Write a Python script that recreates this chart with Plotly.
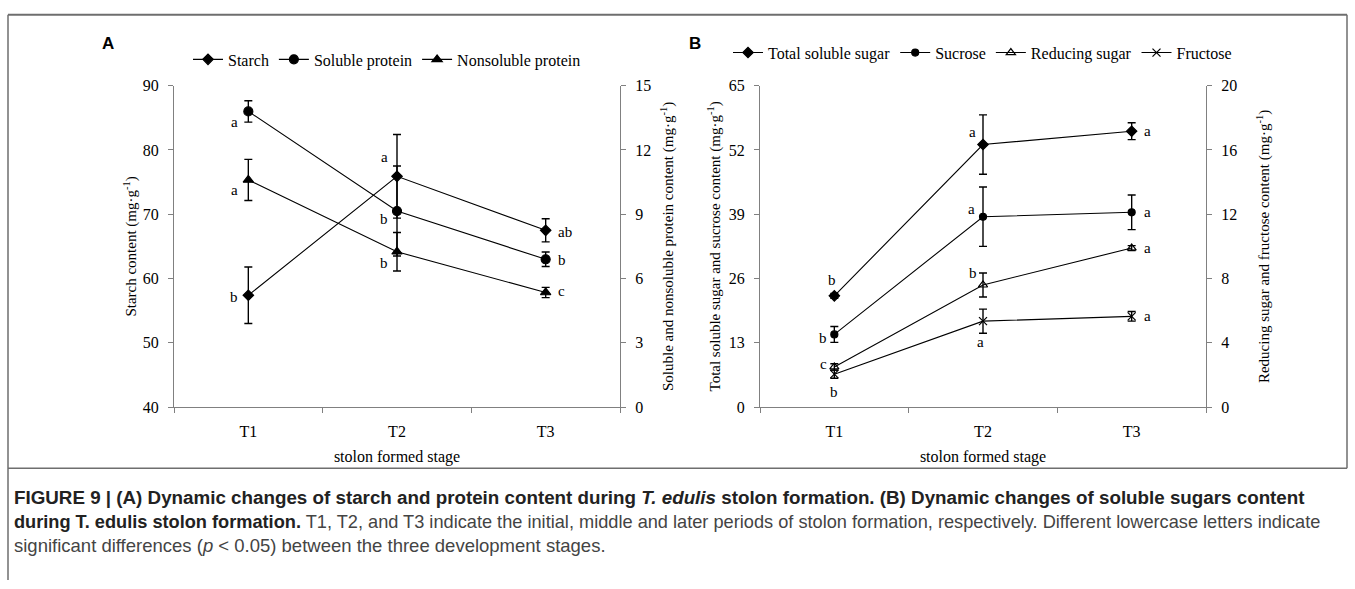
import plotly.graph_objects as go

# ---------------- data ----------------
stages = ["T1", "T2", "T3"]

# Panel A
starch = [57.4, 75.9, 67.5]
starch_err = [4.4, 6.5, 1.8]
starch_sig = ["b", "a", "ab"]
sol_protein = [13.8, 9.15, 6.9]
sol_protein_err = [0.5, 2.1, 0.34]
sol_protein_sig = ["a", "b", "b"]
nonsol_protein = [10.6, 7.25, 5.35]
nonsol_protein_err = [0.96, 0.9, 0.24]
nonsol_protein_sig = ["a", "b", "c"]

# Panel B
total_sugar = [22.5, 53.1, 55.8]
total_sugar_err = [0.5, 6.0, 1.7]
total_sugar_sig = ["b", "a", "a"]
sucrose = [14.7, 38.5, 39.4]
sucrose_err = [1.6, 6.0, 3.5]
sucrose_sig = ["b", "a", "a"]
reducing = [2.5, 7.6, 9.9]
reducing_err = [0.2, 0.75, 0.15]
reducing_sig = ["c", "b", "a"]
fructose = [2.05, 5.35, 5.65]
fructose_err = [0.25, 0.75, 0.3]
fructose_sig = ["b", "a", "a"]

left_ticks_A = [40, 50, 60, 70, 80, 90]
right_ticks_A = [0, 3, 6, 9, 12, 15]
left_ticks_B = [0, 13, 26, 39, 52, 65]
right_ticks_B = [0, 4, 8, 12, 16, 20]

# ---------------- layout helpers ----------------
W, H = 1355, 589
def px(x):
    return x / W
def py(y):
    return 1 - y / H

SERIF = "Liberation Serif, Times New Roman, serif"
AX_COL = "#808080"
TOP, BOT = 80, 411

fig = go.Figure()

def add_series(x_ax, y_ax, name, yvals, err, symbol, size, legend):
    fig.add_trace(go.Scatter(
        x=stages, y=yvals, name=name, mode="lines+markers",
        xaxis=x_ax, yaxis=y_ax, legend=legend,
        line=dict(color="black", width=1.1),
        marker=dict(symbol=symbol, size=size, color="black",
                    line=dict(color="black", width=1.2)),
        error_y=dict(type="data", array=err, visible=True,
                     color="black", thickness=1.4, width=4),
    ))

add_series("x", "y", "Starch", starch, starch_err, "diamond", 8, "legend")
add_series("x", "y2", "Soluble protein", sol_protein, sol_protein_err, "circle", 9, "legend")
add_series("x", "y2", "Nonsoluble protein", nonsol_protein, nonsol_protein_err, "triangle-up", 9, "legend")

add_series("x2", "y3", "Total soluble sugar", total_sugar, total_sugar_err, "diamond", 8, "legend2")
add_series("x2", "y3", "Sucrose", sucrose, sucrose_err, "circle", 7, "legend2")
add_series("x2", "y4", "Reducing sugar", reducing, reducing_err, "triangle-up-open", 8, "legend2")
add_series("x2", "y4", "Fructose", fructose, fructose_err, "x-thin-open", 8, "legend2")

# significance letters
ann = []
def letters(xref, yref, vals, sig, offsets):
    for i, (v, s) in enumerate(zip(vals, sig)):
        dx, dy = offsets[i]
        ann.append(dict(x=stages[i], y=v, xref=xref, yref=yref, text=s,
                        showarrow=False, xshift=dx, yshift=-dy,
                        xanchor="left" if i == 2 else "center",
                        font=dict(family=SERIF, size=15, color="black")))

letters("x", "y", starch, starch_sig, [(-14, 2), (-13, -19), (10, 2)])
letters("x", "y2", sol_protein, sol_protein_sig, [(-14, 11), (-13, 8), (10, 1)])
letters("x", "y2", nonsol_protein, nonsol_protein_sig, [(-14, 10), (-13, 11), (10, -1)])
letters("x2", "y3", total_sugar, total_sugar_sig, [(-2, -16), (-10, -13), (10, 0)])
letters("x2", "y3", sucrose, sucrose_sig, [(-11, 4), (-11, -8), (10, 0)])
letters("x2", "y4", reducing, reducing_sig, [(-11, -3), (-10, -12), (10, 0)])
letters("x2", "y4", fructose, fructose_sig, [(0, 18), (-2, 21), (10, 0)])

# panel letters
ann.append(dict(x=px(100), y=py(37), xref="paper", yref="paper", text="<b>A</b>",
                showarrow=False, xanchor="left", yanchor="middle",
                font=dict(family="Liberation Sans, Arial, sans-serif", size=17, color="black")))
ann.append(dict(x=px(687), y=py(37), xref="paper", yref="paper", text="<b>B</b>",
                showarrow=False, xanchor="left", yanchor="middle",
                font=dict(family="Liberation Sans, Arial, sans-serif", size=17, color="black")))

# caption
CAP_FONT = "Liberation Sans, Arial, sans-serif"
cap1 = ("<b>FIGURE 9 | (A) Dynamic changes of starch and protein content during <i>T. edulis</i> "
        "stolon formation. (B) Dynamic changes of soluble sugars content</b>")
cap2 = ("<b>during T. edulis stolon formation.</b> <span style='color:#444'>T1, T2, and T3 indicate the initial, "
        "middle and later periods of stolon formation, respectively. Different lowercase letters indicate</span>")
cap3 = ("<span style='color:#444'>significant differences (<i>p</i> &lt; 0.05) between the three development stages.</span>")
for t, yy, sz in [(cap1, 504, 18.8), (cap2, 529, 18.2), (cap3, 553, 18.5)]:
    ann.append(dict(x=px(12), y=py(yy), xref="paper", yref="paper", text=t,
                    showarrow=False, xanchor="left", yanchor="middle", align="left",
                    font=dict(family=CAP_FONT, size=sz, color="#222")))

# frame
LC = "#6e6e6e"
shapes = [
    dict(type="line", xref="paper", yref="paper", x0=px(8), x1=px(1347), y0=py(7), y1=py(7),
         line=dict(color=LC, width=2)),
    dict(type="line", xref="paper", yref="paper", x0=px(8), x1=px(1347), y0=py(474), y1=py(474),
         line=dict(color=LC, width=1.5)),
    dict(type="line", xref="paper", yref="paper", x0=px(8), x1=px(8), y0=py(7), y1=0,
         line=dict(color=LC, width=1.5)),
    dict(type="line", xref="paper", yref="paper", x0=px(1347), x1=px(1347), y0=py(7), y1=py(474),
         line=dict(color=LC, width=1.5)),
]

def xaxis(domain, anchor):
    return dict(domain=domain, anchor=anchor, type="category", range=[-0.5, 2.5],
                showline=True, linecolor=AX_COL, linewidth=1.3, ticks="outside",
                tickson="boundaries", ticklen=5, tickcolor=AX_COL, showgrid=False,
                zeroline=False, ticklabelstandoff=10,
                tickfont=dict(family=SERIF, size=16, color="black"),
                title=dict(text="stolon formed stage", standoff=11,
                           font=dict(family=SERIF, size=16, color="black")))

def yaxis(rng, tickv, title, side, anchor, standoff, overlaying=None):
    d = dict(range=rng, tickvals=tickv, side=side, anchor=anchor,
             domain=[py(BOT), py(TOP)], showline=True, linecolor=AX_COL,
             linewidth=1.3, ticks="outside", ticklen=5, tickcolor=AX_COL,
             showgrid=False, zeroline=False, ticklabelstandoff=6,
             tickfont=dict(family=SERIF, size=16, color="black"),
             title=dict(text=title, standoff=standoff,
                        font=dict(family=SERIF, size=15, color="black")))
    if overlaying:
        d["overlaying"] = overlaying
    return d

UNIT = "(mg·g<sup>-1</sup>)"
domA = [px(174), px(620)]
domB = [px(760), px(1206)]

fig.update_layout(
    width=W, height=H, margin=dict(l=0, r=0, t=0, b=0),
    paper_bgcolor="white", plot_bgcolor="white",
    xaxis=xaxis(domA, "y"),
    xaxis2=xaxis(domB, "y3"),
    yaxis=yaxis([40, 90], left_ticks_A, "Starch content " + UNIT, "left", "x", 2),
    yaxis2=yaxis([0, 15], right_ticks_A, "Soluble and nonsoluble protein content " + UNIT, "right", "x", 12, "y"),
    yaxis3=yaxis([0, 65], left_ticks_B, "Total soluble sugar and sucrose content " + UNIT, "left", "x2", 4),
    yaxis4=yaxis([0, 20], right_ticks_B, "Reducing sugar and fructose content " + UNIT, "right", "x2", 22, "y3"),
    legend=dict(orientation="h", x=px(188), y=py(53), xanchor="left", yanchor="middle",
                font=dict(family=SERIF, size=16, color="black"), bgcolor="rgba(0,0,0,0)",
                itemwidth=30, tracegroupgap=0),
    legend2=dict(orientation="h", x=px(728), y=py(46), xanchor="left", yanchor="middle",
                 font=dict(family=SERIF, size=16, color="black"), bgcolor="rgba(0,0,0,0)",
                 itemwidth=30, tracegroupgap=0),
    annotations=ann,
    shapes=shapes,
    showlegend=True,
)

fig.write_html("out.html")
